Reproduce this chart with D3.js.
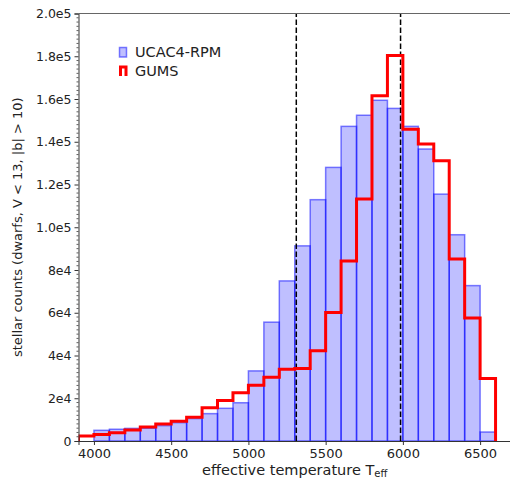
<!DOCTYPE html>
<html><head><meta charset="utf-8">
<script src="https://cdn.jsdelivr.net/npm/d3@7"></script>
<style>body{margin:0;background:#fff;overflow:hidden}svg{display:block;font-family:"DejaVu Sans",sans-serif}</style>
</head><body>
<svg id="c" width="510" height="481"></svg>
<script>
// Data
const binWidth = 100;
const ucacBinStarts = [4000,4100,4200,4300,4400,4500,4600,4700,4800,4900,5000,5100,5200,5300,5400,5500,5600,5700,5800,5900,6000,6100,6200,6300,6400,6500];
const ucacCounts = [5000,5500,5900,6000,7200,8600,10500,12800,15300,17900,32800,55600,74900,91300,112900,128000,147200,152400,159400,155600,147200,136600,115500,96500,72700,4200];
const gumsBinStarts = [3900,4000,4100,4200,4300,4400,4500,4600,4700,4800,4900,5000,5100,5200,5300,5400,5500,5600,5700,5800,5900,6000,6100,6200,6300,6400,6500];
const gumsCounts = [2300,3000,3900,5200,6600,8000,9200,11100,15600,18900,22600,26100,29800,33600,33900,42200,60100,84200,113200,161500,180300,145900,139000,131100,85200,57500,29200];
const dashedTemps = [5310, 5985];
const xTicks = [4000,4500,5000,5500,6000,6500];
const yTicks = [0,20000,40000,60000,80000,100000,120000,140000,160000,180000,200000];
const yTickLabels = ["0","2e4","4e4","6e4","8e4","1.0e5","1.2e5","1.4e5","1.6e5","1.8e5","2.0e5"];
const legendLabels = ["UCAC4-RPM","GUMS"];

const svg = d3.select("#c");
const x = d3.scaleLinear().domain([3900,6700]).range([78.5,511]);
const y = d3.scaleLinear().domain([0,200000]).range([441,13.5]);

svg.append("defs").append("clipPath").attr("id","clip")
  .append("rect").attr("x",x(3900)).attr("y",y(200000)).attr("width",x(6700)-x(3900)).attr("height",y(0)-y(200000));

const plot = svg.append("g").attr("clip-path","url(#clip)");

// blue bars
plot.selectAll("rect.bar").data(ucacBinStarts).enter().append("rect")
  .attr("class","bar")
  .attr("x",d=>x(d)).attr("width",d=>x(d+binWidth)-x(d))
  .attr("y",(d,i)=>y(ucacCounts[i])).attr("height",(d,i)=>y(0)-y(ucacCounts[i]))
  .attr("fill","rgba(0,0,255,0.25)").attr("stroke","rgba(0,0,255,0.5)").attr("stroke-width",1.5);

// dashed lines
plot.selectAll("line.dash").data(dashedTemps).enter().append("line")
  .attr("x1",d=>x(d)).attr("x2",d=>x(d)).attr("y1",y(0)).attr("y2",y(200000))
  .attr("stroke","#000").attr("stroke-width",1.5).attr("stroke-dasharray","5.5,2.5");

// red step
let p = d3.path();
p.moveTo(x(gumsBinStarts[0]), y(0));
gumsBinStarts.forEach((d,i)=>{ p.lineTo(x(d), y(gumsCounts[i])); p.lineTo(x(d+binWidth), y(gumsCounts[i])); });
p.lineTo(x(gumsBinStarts[gumsBinStarts.length-1]+binWidth), y(0));
plot.append("path").attr("d",p.toString()).attr("fill","none").attr("stroke","#ff0000").attr("stroke-width",3).attr("stroke-linejoin","miter");

// axes
const yAxis = d3.axisLeft(y).tickValues(yTicks).tickFormat((d,i)=>yTickLabels[i]).tickSize(4).tickPadding(3);
const gy = svg.append("g").attr("transform",`translate(${x(3900)},0)`).call(yAxis);
const yMinor = d3.range(0,200001,2000).filter(v=>v%20000!==0);
gy.selectAll("line.minor").data(yMinor).enter().append("line").attr("class","minor")
  .attr("x1",-2).attr("x2",0).attr("y1",d=>y(d)).attr("y2",d=>y(d)).attr("stroke","#333").attr("stroke-width",0.8);
gy.selectAll("text").attr("font-size",12.5).attr("fill","#222").attr("font-family","DejaVu Sans");
gy.select(".domain").attr("stroke","#333");
gy.selectAll(".tick line").attr("stroke","#333");

const xAxis = d3.axisBottom(x).tickValues(xTicks).tickFormat(d3.format("d")).tickSize(4).tickPadding(4);
const gx = svg.append("g").attr("transform",`translate(0,${y(0)})`).call(xAxis);
gx.selectAll("text").attr("font-size",13).attr("fill","#222").attr("font-family","DejaVu Sans");
gx.select(".domain").attr("stroke","#333");
gx.selectAll(".tick line").attr("stroke","#333");

// top spine
svg.append("line").attr("x1",x(3900)).attr("x2",x(6700)).attr("y1",y(200000)).attr("y2",y(200000)).attr("stroke","#666").attr("stroke-width",1);

// labels
svg.append("text").attr("transform",`translate(22,${(y(0)+y(200000))/2}) rotate(-90)`)
  .attr("text-anchor","middle").attr("font-size",13).attr("fill","#222")
  .text("stellar counts (dwarfs, V < 13, |b| > 10)");
const xl = svg.append("text").attr("x",(x(3900)+x(6700))/2).attr("y",475).attr("text-anchor","middle").attr("font-size",14.5).attr("fill","#222");
xl.append("tspan").text("effective temperature T");
xl.append("tspan").attr("font-size",10).attr("dy",2).text("eff");

// legend
const lg = svg.append("g");
lg.append("rect").attr("x",119.5).attr("y",47.5).attr("width",7).attr("height",9.5)
  .attr("fill","rgba(0,0,255,0.25)").attr("stroke","rgba(0,0,255,0.5)").attr("stroke-width",1.5);
lg.append("path").attr("d",`M120.5,76 V67 H126 V76`).attr("fill","none").attr("stroke","#ff0000").attr("stroke-width",3);
lg.selectAll("text").data(legendLabels).enter().append("text")
  .attr("x",135).attr("y",(d,i)=>57+i*19).attr("font-size",14.5).attr("fill","#222").text(d=>d);
</script>
</body></html>
